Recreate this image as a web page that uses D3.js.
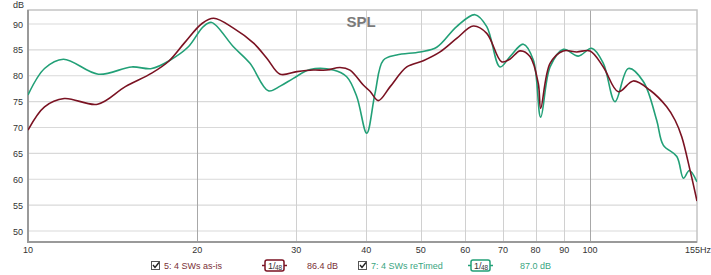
<!DOCTYPE html>
<html>
<head>
<meta charset="utf-8">
<script src="https://cdn.jsdelivr.net/npm/d3@7"></script>
<style>
  body { margin: 0; background: #fff; }
  svg text { font-family: "Liberation Sans", Arial, sans-serif; }
</style>
</head>
<body>
<div id="chart"></div>
<script>
// ── Data (frequency Hz, SPL dB) ─────────────────────────────
const asIsFreq = [10, 10.7, 11.6, 13.3, 14.9, 16.6, 17.8, 19.0, 20.4, 21.4, 23.2, 25.2, 26.6, 28.1, 30.1, 32.2, 34.0, 35.9, 37.4, 39.5, 40.6, 42.0, 44.1, 47.2, 50.5, 54.1, 57.9, 62.0, 65.5, 69.6, 72.0, 75.1, 78.2, 80.9, 81.7, 84.9, 89.6, 94.7, 100, 105.6, 112.3, 119.4, 127.9, 136.9, 141.7, 145.6, 150.6, 155];
const asIsDb   = [69.5, 74.0, 75.6, 74.5, 77.9, 80.5, 82.8, 86.4, 90.1, 91.1, 89.2, 86.3, 83.4, 80.3, 80.8, 81.1, 81.1, 81.6, 81.1, 78.2, 77.0, 75.2, 77.9, 81.7, 82.9, 84.6, 87.2, 89.6, 88.2, 82.7, 83.2, 84.8, 83.7, 78.5, 73.7, 82.4, 84.8, 84.6, 84.8, 81.7, 76.9, 79.0, 77.2, 74.0, 71.4, 68.2, 61.8, 55.8];

const reTimedFreq = [10, 10.7, 11.56, 13.34, 15.29, 16.6, 17.89, 19.29, 20.51, 21.22, 23.2, 24.83, 26.77, 28.1, 29.66, 31.76, 34.94, 36.9, 38.45, 40.06, 41.44, 42.88, 45.29, 49.83, 53.36, 57.9, 62.43, 65.5, 69.16, 72.05, 76.08, 79.3, 81.7, 84.9, 89.65, 95.3, 100.7, 105.6, 110.8, 117.0, 124.4, 131.4, 135.0, 142.7, 146.6, 150.2, 155];
const reTimedDb   = [76.3, 81.4, 83.2, 80.3, 81.7, 81.4, 83.0, 85.6, 89.5, 90.3, 85.6, 82.4, 77.1, 78.0, 79.5, 81.2, 81.1, 79.8, 76.0, 68.9, 76.6, 83.0, 84.0, 84.6, 85.5, 89.5, 91.8, 89.5, 81.7, 83.7, 86.1, 83.0, 72.0, 81.7, 85.1, 83.8, 85.3, 82.4, 75.0, 81.4, 78.9, 71.4, 66.6, 64.4, 60.2, 61.7, 59.5];

const yTicks = [50, 55, 60, 65, 70, 75, 80, 85, 90];
const xTicks = [10, 20, 30, 40, 50, 60, 70, 80, 90, 100, 155];
const xTickLabels = ["10", "20", "30", "40", "50", "60", "70", "80", "90", "100", "155Hz"];

const seriesNames = ["5: 4 SWs as-is", "7: 4 SWs reTimed"];
const seriesLevels = ["86.4 dB", "87.0 dB"];
const seriesColors = ["#7a1222", "#22a077"];
const legendText = ["#7a3036", "#3aa57f"];

// ── Setup ───────────────────────────────────────────────────
const W = 711, H = 275;
const plot = { left: 28, right: 697, top: 10, bottom: 242 };

const svg = d3.select("#chart").append("svg").attr("width", W).attr("height", H);

const x = d3.scaleLog().domain([10, 155]).range([plot.left, plot.right]);
const y = d3.scaleLinear().domain([50, 90]).range([231, 24]);

svg.append("defs").append("clipPath").attr("id", "clip")
    .append("rect").attr("x", plot.left).attr("y", plot.top)
    .attr("width", plot.right - plot.left).attr("height", plot.bottom - plot.top);

// Gridlines
const grid = svg.append("g");
grid.selectAll("line.h").data(yTicks).enter().append("line")
    .attr("x1", plot.left).attr("x2", plot.right)
    .attr("y1", d => y(d)).attr("y2", d => y(d))
    .attr("stroke", "#d9d9d9").attr("stroke-width", 1.2);
grid.selectAll("line.v").data(xTicks.filter(d => d > 10 && d < 155)).enter().append("line")
    .attr("y1", plot.top).attr("y2", plot.bottom)
    .attr("x1", d => Math.round(x(d)) + 0.5).attr("x2", d => Math.round(x(d)) + 0.5)
    .attr("stroke", d => (d === 20 || d === 100) ? "#a8a8a8" : "#d0d0d0").attr("stroke-width", 1);

// Frame
svg.append("rect").attr("x", plot.left).attr("y", plot.top)
    .attr("width", plot.right - plot.left).attr("height", plot.bottom - plot.top)
    .attr("fill", "none").attr("stroke", "#c4c4c4").attr("stroke-width", 1.5);
svg.append("line").attr("x1", plot.left).attr("x2", plot.left).attr("y1", plot.top).attr("y2", plot.bottom + 1)
    .attr("stroke", "#9a9a9a").attr("stroke-width", 2);
svg.append("line").attr("x1", plot.left).attr("x2", plot.right).attr("y1", plot.bottom).attr("y2", plot.bottom)
    .attr("stroke", "#9a9a9a").attr("stroke-width", 2);

// Tick labels
svg.append("g").selectAll("text").data(yTicks).enter().append("text")
    .attr("x", 23).attr("y", d => y(d) + 3.5).attr("text-anchor", "end")
    .attr("font-size", 9).attr("fill", "#333").text(d => d);
svg.append("g").selectAll("text").data(xTicks).enter().append("text")
    .attr("x", (d, i) => i === xTicks.length - 1 ? x(d) + 14 : x(d))
    .attr("y", 253).attr("text-anchor", (d, i) => i === xTicks.length - 1 ? "end" : "middle")
    .attr("font-size", 9).attr("fill", "#333").text((d, i) => xTickLabels[i]);

svg.append("text").attr("x", 13).attr("y", 8).attr("font-size", 9).attr("fill", "#333").text("dB");
svg.append("text").attr("x", 361).attr("y", 27).attr("text-anchor", "middle")
    .attr("font-size", 15).attr("font-weight", "bold").attr("fill", "#7a7a7a").text("SPL");

// Curves
const line = d3.line().x(d => x(d[0])).y(d => y(d[1])).curve(d3.curveCatmullRom.alpha(0.5));
const series = [
    d3.zip(asIsFreq, asIsDb),
    d3.zip(reTimedFreq, reTimedDb)
];
const curves = svg.append("g").attr("clip-path", "url(#clip)");
[1, 0].forEach(i => {
    curves.append("path").datum(series[i]).attr("d", line)
        .attr("fill", "none").attr("stroke", seriesColors[i]).attr("stroke-width", 1.6);
});

// Legend
const legendX = [151, 358];
const boxX = [265, 471];
const levelX = [307, 520];
const lg = svg.append("g");
seriesNames.forEach((name, i) => {
    const g = lg.append("g");
    // checkbox
    g.append("rect").attr("x", legendX[i] + 0.5).attr("y", 261.5).attr("width", 8).attr("height", 8)
        .attr("fill", "#fff").attr("stroke", "#555").attr("stroke-width", 1);
    g.append("path").attr("d", `M${legendX[i] + 2},${265} l2,2.5 l4,-5`)
        .attr("fill", "none").attr("stroke", "#222").attr("stroke-width", 1.4);
    g.append("text").attr("x", legendX[i] + 13).attr("y", 269).attr("font-size", 9)
        .attr("fill", legendText[i]).text(name);
    // smoothing box
    g.append("line").attr("x1", boxX[i] - 3).attr("x2", boxX[i] + 22).attr("y1", 265.5).attr("y2", 265.5)
        .attr("stroke", seriesColors[i]).attr("stroke-width", 1.5);
    g.append("rect").attr("x", boxX[i]).attr("y", 260).attr("width", 19).attr("height", 11).attr("rx", 2)
        .attr("fill", "#fff").attr("stroke", seriesColors[i]).attr("stroke-width", 1.5);
    g.append("text").attr("x", boxX[i] + 3).attr("y", 269).attr("font-size", 9).attr("fill", "#333").text("1/");
    g.append("text").attr("x", boxX[i] + 10).attr("y", 270).attr("font-size", 6.5).attr("fill", "#333").text("48");
    g.append("text").attr("x", levelX[i]).attr("y", 269).attr("font-size", 9)
        .attr("fill", legendText[i]).text(seriesLevels[i]);
});
</script>
</body>
</html>
